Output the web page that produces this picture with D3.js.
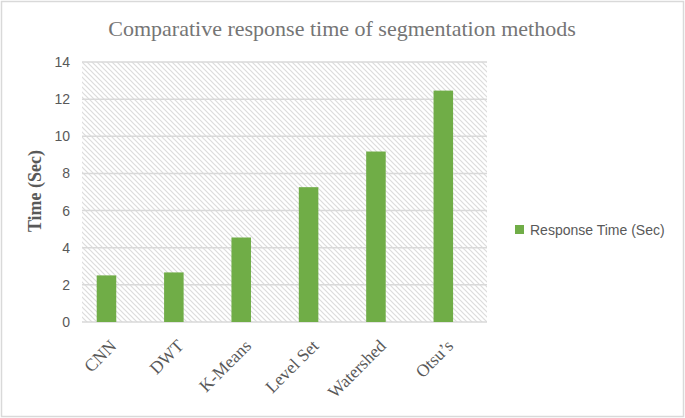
<!DOCTYPE html>
<html><head><meta charset="utf-8">
<script src="https://cdn.jsdelivr.net/npm/d3@7"></script>
<style>body{margin:0;background:#fff}svg{display:block}</style>
</head><body>
<script>
const categories = ["CNN", "DWT", "K-Means", "Level Set", "Watershed", "Otsu’s"];
const responseTime = [2.51, 2.67, 4.55, 7.26, 9.18, 12.46];
const yTicks = [0, 2, 4, 6, 8, 10, 12, 14];
const seriesName = "Response Time (Sec)";
const chartTitle = "Comparative response time of segmentation methods";
const yTitle = "Time (Sec)";

const W = 685, H = 418;
const svg = d3.select("body").append("svg").attr("width", W).attr("height", H);

// chart border
svg.append("rect").attr("x", 1.5).attr("y", 1.5).attr("width", W - 3).attr("height", H - 3)
  .attr("fill", "#fff").attr("stroke", "#d9d9d9").attr("stroke-width", 1.5);

const plot = {left: 82, right: 487, top: 62, bottom: 322};

const defs = svg.append("defs");
const pat = defs.append("pattern").attr("id", "hatch").attr("patternUnits", "userSpaceOnUse")
  .attr("width", 5).attr("height", 5);
pat.append("rect").attr("width", 5).attr("height", 5).attr("fill", "#fff");
pat.append("path").attr("d", "M0,0L5,5M-1,4L1,6M4,-1L6,1")
  .attr("stroke", "#dcdcdc").attr("stroke-width", 1.2);

svg.append("rect").attr("x", plot.left).attr("y", plot.top)
  .attr("width", plot.right - plot.left).attr("height", plot.bottom - plot.top)
  .attr("fill", "url(#hatch)");

const y = d3.scaleLinear().domain([0, 14]).range([plot.bottom, plot.top]);
const x = d3.scaleBand().domain(categories).range([72.8, 477]).paddingInner(0.71).paddingOuter(0.355);

// gridlines
svg.append("g").selectAll("line").data(yTicks).join("line")
  .attr("x1", plot.left).attr("x2", plot.right)
  .attr("y1", d => y(d)).attr("y2", d => y(d))
  .attr("stroke", "#d9d9d9").attr("stroke-width", 1.5);

// y axis labels
const yAxis = d3.axisLeft(y).tickValues(yTicks).tickSize(0).tickPadding(0);
const ya = svg.append("g").attr("transform", `translate(${plot.left - 12},0)`).call(yAxis);
ya.select(".domain").remove();
ya.selectAll("text").attr("font-family", "'Liberation Sans', Arial, sans-serif")
  .attr("font-size", 14).attr("fill", "#595959");

// bars
svg.append("g").selectAll("rect").data(categories).join("rect")
  .attr("x", d => x(d)).attr("width", x.bandwidth())
  .attr("y", (d, i) => y(responseTime[i]))
  .attr("height", (d, i) => y(0) - y(responseTime[i]))
  .attr("fill", "#70ad47");

// x axis
const xAxis = d3.axisBottom(x).tickSize(0).tickPadding(0);
const xa = svg.append("g").attr("transform", `translate(0,${plot.bottom})`).call(xAxis);
xa.select(".domain").remove();
xa.selectAll("text")
  .attr("font-family", "'Liberation Serif', 'Times New Roman', serif")
  .attr("font-size", 17.5).attr("fill", "#595959")
  .attr("text-anchor", "end").attr("dy", null)
  .attr("transform", "translate(11,25) rotate(-45)");

// title
svg.append("text").attr("x", 342).attr("y", 36).attr("text-anchor", "middle")
  .attr("font-family", "'Liberation Serif', 'Times New Roman', serif")
  .attr("font-size", 22).attr("fill", "#757575").text(chartTitle);

// y title
svg.append("text").attr("transform", "translate(41,191) rotate(-90)").attr("text-anchor", "middle")
  .attr("font-family", "'Liberation Serif', 'Times New Roman', serif")
  .attr("font-size", 18).attr("font-weight", "bold").attr("fill", "#595959").text(yTitle);

// legend
const lg = svg.append("g").attr("transform", "translate(515,225)");
lg.append("rect").attr("width", 9).attr("height", 9).attr("fill", "#70ad47");
lg.append("text").attr("x", 15).attr("y", 9.5)
  .attr("font-family", "'Liberation Sans', Arial, sans-serif")
  .attr("font-size", 14).attr("fill", "#595959").text(seriesName);
</script>
</body></html>
